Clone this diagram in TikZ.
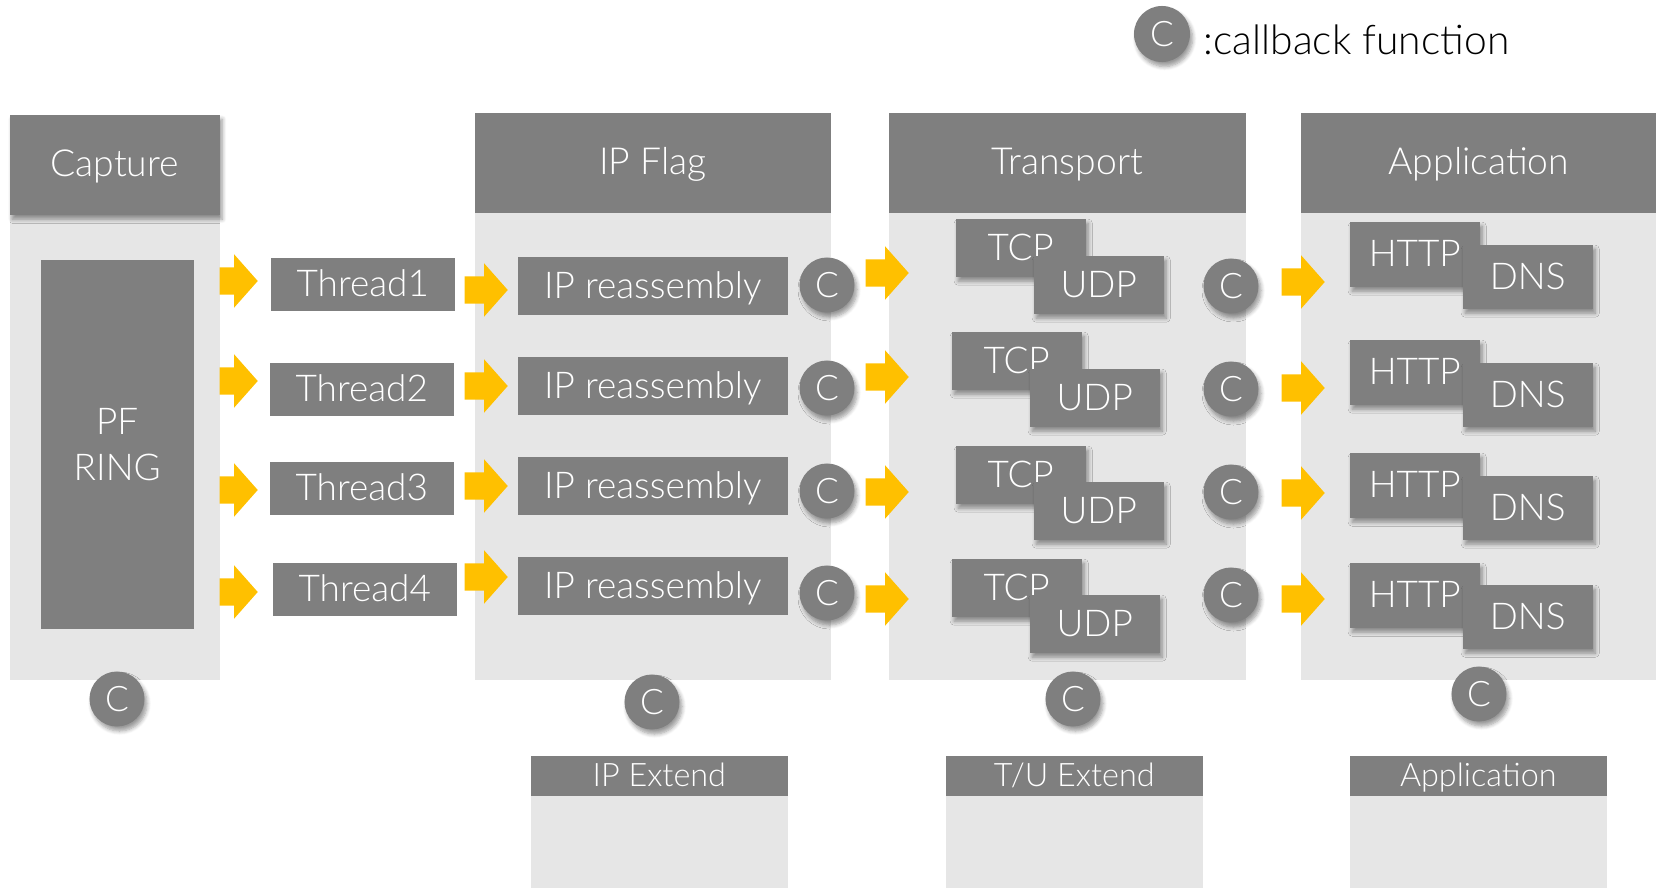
\documentclass[tikz,border=0pt]{standalone}
\usepackage{fontspec}
\setmainfont{Lato}[UprightFont=* Light]
\usetikzlibrary{shapes.arrows,shadows.blur,positioning}
\definecolor{boxgray}{RGB}{127,127,127}
\definecolor{panelgray}{RGB}{230,230,230}
\definecolor{flowyellow}{RGB}{255,192,0}
\tikzset{
  softshadow/.style={blur shadow={shadow xshift=0.025cm, shadow yshift=-0.045cm, shadow opacity=40, shadow blur radius=0.04cm, shadow blur steps=6}},
  panel/.style={fill=panelgray, inner sep=0pt, anchor=north west},
  plainbox/.style={fill=boxgray, text=white, inner sep=0pt, anchor=north west, align=center, font=\fontsize{10.5}{13}\selectfont},
  header/.style={plainbox, text height=7.5pt, text depth=0.6pt, font=\fontsize{10.6}{12}\selectfont},
  darkbox/.style={plainbox, text height=7.5pt, text depth=0.4pt},
  proto/.style={darkbox, minimum width=1.30cm, softshadow},
  cb/.style={circle, fill=boxgray, text=white, minimum size=0.55cm, inner sep=0pt, text height=7.2pt, text depth=0pt, font=\fontsize{10}{12}\selectfont, softshadow},
  flow/.style={single arrow, fill=flowyellow, inner sep=0pt, anchor=tail, text height=0.26cm, text depth=0pt, minimum height=0.43cm, single arrow head extend=0.13cm, single arrow tip angle=97},
  extend/.style={header, minimum width=2.57cm, minimum height=0.40cm, text height=6.4pt, text depth=0.4pt, font=\fontsize{9.2}{11}\selectfont}
}
\begin{document}
\begin{tikzpicture}[x=0.01cm, y=-0.01cm]
\useasboundingbox (0,0) rectangle (1656,888);

% legend
\node[cb, minimum size=0.56cm] (legendc) at (1162,34) {C};
\node[anchor=base west, inner sep=0pt, font=\fontsize{11.6}{13}\selectfont] (legendtext) at (1203,55) {:callback function};

% columns
\node[panel, minimum width=2.10cm, minimum height=4.65cm] (capbody) at (9,214) {};
\node[header, minimum width=2.10cm, minimum height=1.00cm, softshadow] (capture) at (9,114) {Capture};
\node[panel, minimum width=3.56cm, minimum height=4.67cm] (ipbody) at (474,212) {};
\node[header, minimum width=3.56cm, minimum height=1.00cm] (ipflag) at (474,112) {IP Flag};
\node[panel, minimum width=3.57cm, minimum height=4.67cm] (tpbody) at (888,212) {};
\node[header, minimum width=3.57cm, minimum height=1.00cm] (transport) at (888,112) {Transport};
\node[panel, minimum width=3.56cm, minimum height=4.67cm] (appbody) at (1300,212) {};
\node[header, minimum width=3.56cm, minimum height=1.00cm] (application) at (1300,112) {Application};

% capture
\node[plainbox, minimum width=1.53cm, minimum height=3.69cm] (pfring) at (40,259) {PF\\RING};
\foreach \n/\x/\y in {1/270/257, 2/269/362, 3/269/461, 4/272/562}
  \node[darkbox, minimum width=1.84cm, minimum height=0.53cm] (thread\n) at (\x,\y) {Thread\n};

% ip layer
\foreach \n/\y/\c in {1/256/285, 2/356/388, 3/456/491, 4/556/593} {
  \node[darkbox, minimum width=2.70cm, minimum height=0.58cm] (ipr\n) at (517,\y) {IP reassembly};
  \node[cb] (ipc\n) at (827,\c) {C};
}

% transport layer
\foreach \n/\x/\y/\u/\v/\c in {1/955/218/1033/255/286, 2/951/331/1029/368/389, 3/955/445/1033/481/492, 4/951/558/1029/594/595} {
  \node[proto, minimum height=0.58cm] (tcp\n) at (\x,\y) {TCP};
  \node[proto, minimum height=0.58cm] (udp\n) at (\u,\v) {UDP};
  \node[cb] (tpc\n) at (1231,\c) {C};
}

% application layer
\foreach \n/\y/\v in {1/221/244, 2/339/362, 3/452/475, 4/562/584} {
  \node[proto, minimum height=0.65cm] (http\n) at (1349,\y) {HTTP};
  \node[proto, minimum height=0.64cm] (dns\n) at (1462,\v) {DNS};
}

% flow arrows
\foreach \n/\a/\b/\c/\d in {1/281/290/273/282, 2/381/386/377/388, 3/490/486/492/493, 4/592/577/599/599} {
  \node[flow, minimum height=0.38cm] (tothread\n) at (219,\a) {};
  \node[flow] (toip\n) at (464,\b) {};
  \node[flow] (totp\n) at (865,\c) {};
  \node[flow] (toapp\n) at (1281,\d) {};
}

% callbacks below the columns
\node[cb] (capc) at (117,699) {C};
\node[cb] (ipflagc) at (652,702) {C};
\node[cb] (transportc) at (1073,699) {C};
\node[cb] (applicationc) at (1479,694) {C};

% extend boxes
\node[panel, minimum width=2.57cm, minimum height=0.93cm] (ipextbody) at (530,795) {};
\node[extend] (ipext) at (530,755) {IP Extend};
\node[panel, minimum width=2.57cm, minimum height=0.93cm] (tuextbody) at (945,795) {};
\node[extend] (tuext) at (945,755) {T/U Extend};
\node[panel, minimum width=2.57cm, minimum height=0.93cm] (appextbody) at (1349,795) {};
\node[extend] (appext) at (1349,755) {Application};
\end{tikzpicture}
\end{document}
